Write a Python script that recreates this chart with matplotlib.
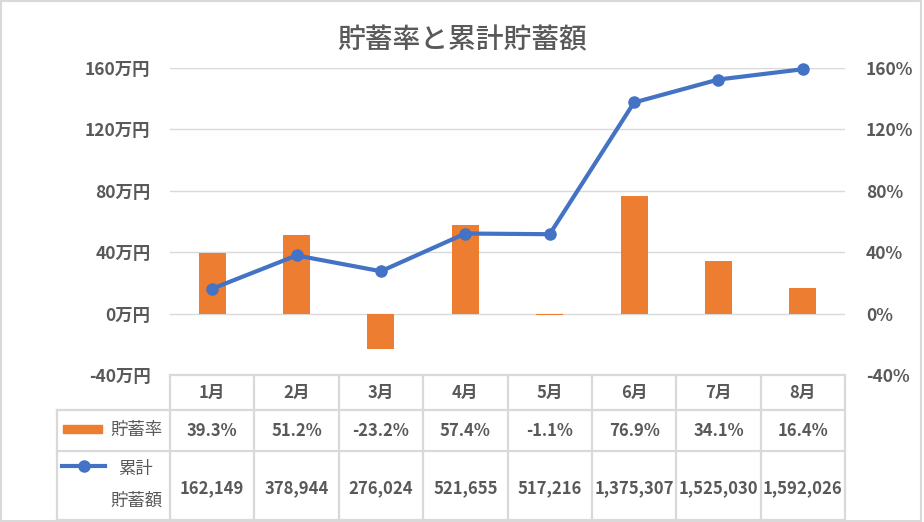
import matplotlib
matplotlib.use('Agg')
import matplotlib.pyplot as plt
from matplotlib.lines import Line2D
from matplotlib.patches import Rectangle

plt.rcParams['font.family'] = ['Noto Sans CJK JP', 'DejaVu Sans']

# data
months = ['1月', '2月', '3月', '4月', '5月', '6月', '7月', '8月']
savings_rate = [39.3, 51.2, -23.2, 57.4, -1.1, 76.9, 34.1, 16.4]   # %
cumulative = [162149, 378944, 276024, 521655, 517216, 1375307, 1525030, 1592026]  # 円
yticks = [-40, 0, 40, 80, 120, 160]

TXT = '#595959'
GRID = '#D9D9D9'
ORANGE = '#ED7D31'
BLUE = '#4472C4'

W, H = 924, 522
fig = plt.figure(figsize=(W / 100, H / 100), dpi=100)


def fx(px):
    return px / W


def fy(py):
    return 1 - py / H


# plot area (pixels measured from reference)
left, right, top, bottom = 170, 845, 68, 375
ax = fig.add_axes([fx(left), fy(bottom), fx(right - left), (bottom - top) / H])
ax2 = ax.twinx()
ax.set_zorder(ax2.get_zorder() + 1)
ax.patch.set_visible(False)

x = list(range(len(months)))

# bars: savings rate on right axis
ax2.bar(x, savings_rate, width=0.32, color=ORANGE, zorder=2)
ax2.set_ylim(-40, 160)
ax2.set_yticks(yticks)
ax2.set_yticklabels([f'{t}%' for t in yticks])
ax2.grid(axis='y', color=GRID, linewidth=1, zorder=0)
ax2.set_axisbelow(True)

# line: cumulative savings on left axis (万円)
man = [v / 10000 for v in cumulative]
ax.plot(x, man, color=BLUE, linewidth=3, marker='o', markersize=8, zorder=3,
        clip_on=False)
ax.set_ylim(-40, 160)
ax.set_yticks(yticks)
ax.set_yticklabels([f'{t}万円' for t in yticks])
ax.set_xlim(-0.5, len(months) - 0.5)
ax.set_xticks([])

for a in (ax, ax2):
    for s in a.spines.values():
        s.set_visible(False)
    a.tick_params(length=0, labelsize=12.5, labelcolor=TXT)
    for lab in a.get_yticklabels():
        lab.set_fontweight('bold')
ax.tick_params(axis='y', pad=14)
ax2.tick_params(axis='y', pad=15)

# data table below the plot
tr = ax.get_xaxis_transform()
ph = bottom - top


def ay(py):
    return (bottom - py) / ph


ppu = (right - left) / len(months)
x_lab = -0.5 - (left - 57) / ppu
x_end = len(months) - 0.5
row_y = [ay(375), ay(410), ay(451), ay(520)]
lkw = dict(color=GRID, linewidth=1.6, transform=tr, clip_on=False)
ax.add_line(Line2D([-0.5, x_end], [row_y[0], row_y[0]], **lkw))
for yy in row_y[1:]:
    ax.add_line(Line2D([x_lab, x_end], [yy, yy], **lkw))
ax.add_line(Line2D([x_lab, x_lab], [row_y[1], row_y[3]], **lkw))
for xv in [i - 0.5 for i in range(len(months) + 1)]:
    ax.add_line(Line2D([xv, xv], [row_y[0], row_y[3]], **lkw))

tkw = dict(transform=tr, ha='center', va='center', fontsize=12, color=TXT,
           fontweight='bold', clip_on=False)
for i, m in enumerate(months):
    ax.text(i, ay(393), m, **tkw)
    ax.text(i, ay(431), f'{savings_rate[i]:.1f}%', **tkw)
    ax.text(i, ay(488), f'{cumulative[i]:,}', **tkw)

# legend keys inside the table
fig.patches.append(Rectangle((fx(63), fy(433)), fx(39), 8 / H, color=ORANGE,
                             transform=fig.transFigure))
fig.lines.append(Line2D([fx(62), fx(105)], [fy(466), fy(466)], color=BLUE,
                        linewidth=3, transform=fig.transFigure))
fig.lines.append(Line2D([fx(84)], [fy(466)], color=BLUE, marker='o',
                        markersize=8, transform=fig.transFigure))
lkw2 = dict(ha='center', va='center', fontsize=12.5, color=TXT)
fig.text(fx(136), fy(430), '貯蓄率', **lkw2)
fig.text(fx(136), fy(469), '累計', **lkw2)
fig.text(fx(136), fy(501), '貯蓄額', **lkw2)

# title
fig.text(0.5, fy(40), '貯蓄率と累計貯蓄額', ha='center', va='center',
         fontsize=20, fontweight='medium', color=TXT)

# outer border
fig.patches.append(Rectangle((0.001, 0.002), 0.996, 0.996, fill=False,
                             edgecolor=GRID, linewidth=1.5,
                             transform=fig.transFigure))

fig.savefig('out.png', dpi=100)
